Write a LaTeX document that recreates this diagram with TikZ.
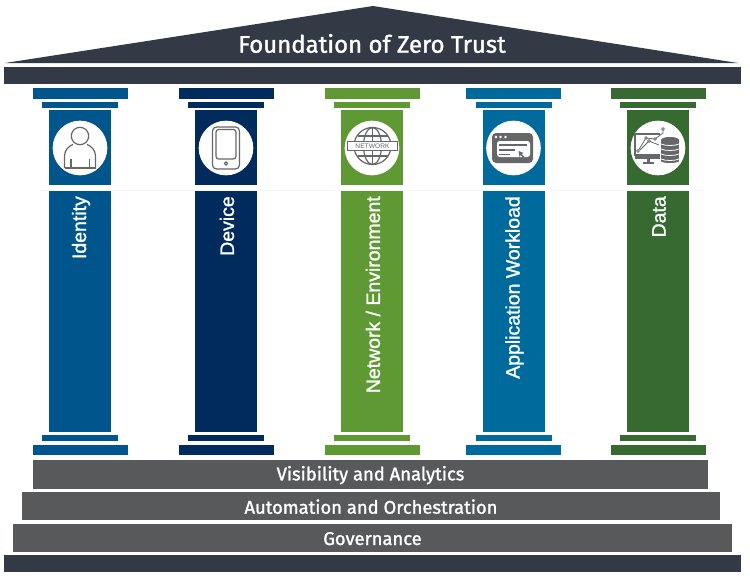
\documentclass[tikz,border=0pt]{standalone}
\usepackage{fontspec}
\setmainfont{Liberation Sans}
\newfontfamily\titlefont{Fira Sans}[BoldFont={Fira Sans},BoldFeatures={FakeBold=1.4}]
\newfontfamily\pillarfont{Liberation Sans}[BoldFont={Liberation Sans},BoldFeatures={FakeBold=1.2}]
\definecolor{roofc}{HTML}{333A46}
\definecolor{stepc}{HTML}{58595B}
\definecolor{iconc}{HTML}{666769}
\definecolor{identc}{HTML}{00558C}
\definecolor{devc}{HTML}{002B5C}
\definecolor{netc}{HTML}{5F9933}
\definecolor{appc}{HTML}{006A9C}
\definecolor{datac}{HTML}{376A30}
\begin{document}
\begin{tikzpicture}[x=0.75pt,y=-0.75pt,
  steptext/.style={text=white,font=\titlefont\bfseries\fontsize{13.8}{14}\selectfont},
  pillartext/.style={text=white,rotate=90,anchor=east,inner sep=0,font=\pillarfont\bfseries\fontsize{14.6}{15}\selectfont},
  icon/.style={draw=iconc,line width=0.9pt},
  iconfill/.style={fill=iconc}]
\useasboundingbox (0,0) rectangle (750,578);
\newcommand\pilari[4]{
\begin{scope}[shift={(#1,0)}]
\path[fill=#2] (-47.5,88) rectangle (47.5,99);
\path[fill=#2] (-38,102) rectangle (38,108);
\path[fill=#2] (-31,110) rectangle (31,185);
\path[fill=#2] (-31,191) rectangle (31,432);
\path[fill=#2] (-38,435) rectangle (38,441);
\path[fill=#2] (-47.5,445) rectangle (47.5,455);
\node[circle,fill=white,minimum size=41pt,inner sep=0] (#3) at (0,148) {};
\node[pillartext] (#3t) at (1,196) {#4};
\end{scope}
}
\path[fill=roofc] (5,63) -- (373,6) -- (738,63) -- cycle;
\node[text=white,font=\titlefont\bfseries\fontsize{18}{18}\selectfont] (title) at (372,43.5) {Foundation of Zero Trust};
\path[fill=roofc] (4,67) rectangle (741,84);
\path[draw=black!4,line width=0.5pt] (39,190.5) -- (703,190.5);
\pilari{80}{identc}{ident}{Identity}
\pilari{226}{devc}{dev}{Device}
\pilari{372}{netc}{net}{Network / Environment}
\pilari{513.5}{appc}{app}{Application Workload}
\pilari{658}{datac}{data}{Data}
\path[fill=stepc] (33,460) rectangle node[steptext,yshift=-0.5pt] (vis) {Visibility and Analytics} (708,489);
\path[fill=stepc] (22,492) rectangle node[steptext,yshift=-0.5pt] (auto) {Automation and Orchestration} (720,520);
\path[fill=stepc] (13,524) rectangle node[steptext,yshift=-0.5pt] (gov) {Governance} (732,552);
\path[fill=roofc] (4,555) rectangle (741,572);
\begin{scope}[shift={(80,148)}]
\draw[icon] (0,-12) circle (8.7);
\draw[icon] (-15.5,20) -- (-15.5,8) .. controls (-15.5,2) and (-11,-2) .. (-7,-3.5);
\draw[icon] (15.5,20) -- (15.5,8) .. controls (15.5,2) and (11,-2) .. (7,-3.5);
\draw[icon] (-15.5,20) -- (15.5,20);
\draw[icon] (-9,11) -- (-9,20);
\draw[icon] (9.5,11) -- (9.5,20);
\end{scope}
\begin{scope}[shift={(226,148)}]
\draw[icon,rounded corners=3pt] (-13.5,-21) rectangle (13.5,21);
\draw[icon,rounded corners=2pt] (-10,-18.5) rectangle (10,11);
\draw[icon] (0,15.5) circle (1.6);
\end{scope}
\begin{scope}[shift={(372.5,146)}]
\draw[icon] (0,0) circle (18.5);
\draw[icon] (0,0) ellipse (9 and 18.5);
\draw[icon] (0,-18.5) -- (0,18.5);
\draw[icon] (-15,-10) -- (15,-10);
\draw[icon] (-15,10) -- (15,10);
\path[fill=white,draw=iconc,line width=0.9pt] (-25,-4.5) rectangle node[text=iconc,font=\fontsize{5}{5}\selectfont,inner sep=0] (netword) {NETWORK} (25,4.5);
\end{scope}
\begin{scope}[shift={(512.5,148)}]
\path[iconfill,rounded corners=3pt] (-20.5,-15) rectangle (20.5,15);
\path[fill=white,rounded corners=2pt] (-15.5,-7) rectangle (17.5,9);
\foreach \dotx in {-16.5,-12,-7}
  \path[fill=white] (\dotx,-11) circle (1.4);
\path[iconfill] (-13.5,-4.5) rectangle (14,-2.5);
\path[iconfill] (-13.5,1) rectangle (2,2.5);
\path[iconfill] (-13.5,5.5) rectangle (-3,7);
\path[iconfill] (6,3) -- (11,5) -- (9,6) -- (12,9) -- (11,10) -- (8,7) -- (7,9) -- cycle;
\end{scope}
\begin{scope}[shift={(657,148)}]
\draw[icon] (3,7) -- (-22,7) -- (-22,-14) -- (3,-14);
\path[iconfill] (-22.5,7) rectangle (3,11);
\path[iconfill] (-10,11) rectangle (-7,14);
\path[iconfill] (-14,14) rectangle (-3,15.5);
\draw[icon,line width=0.6pt] (-19,3) -- (-11,-10) -- (-2,-9) -- (6,-15) -- (6,-19);
\draw[icon,line width=0.6pt] (-17,2) -- (-8,-7) -- (-3,-5) -- (2,-3);
\foreach \px/\py in {-19/3,-11/-10,-2/-9,6/-19,-8/-7}
  \path[fill=white,draw=iconc,line width=0.5pt] (\px,\py) circle (1.3);
\path[iconfill] (4,-8) rectangle (22,13);
\path[iconfill] (13,-8) ellipse (9 and 3);
\path[iconfill] (13,13) ellipse (9 and 2);
\foreach \py in {-4,1,6,11}
  \draw[white,line width=0.6pt] (4,\py) .. controls (8,\py+2) and (18,\py+2) .. (22,\py);
\end{scope}
\end{tikzpicture}
\end{document}
